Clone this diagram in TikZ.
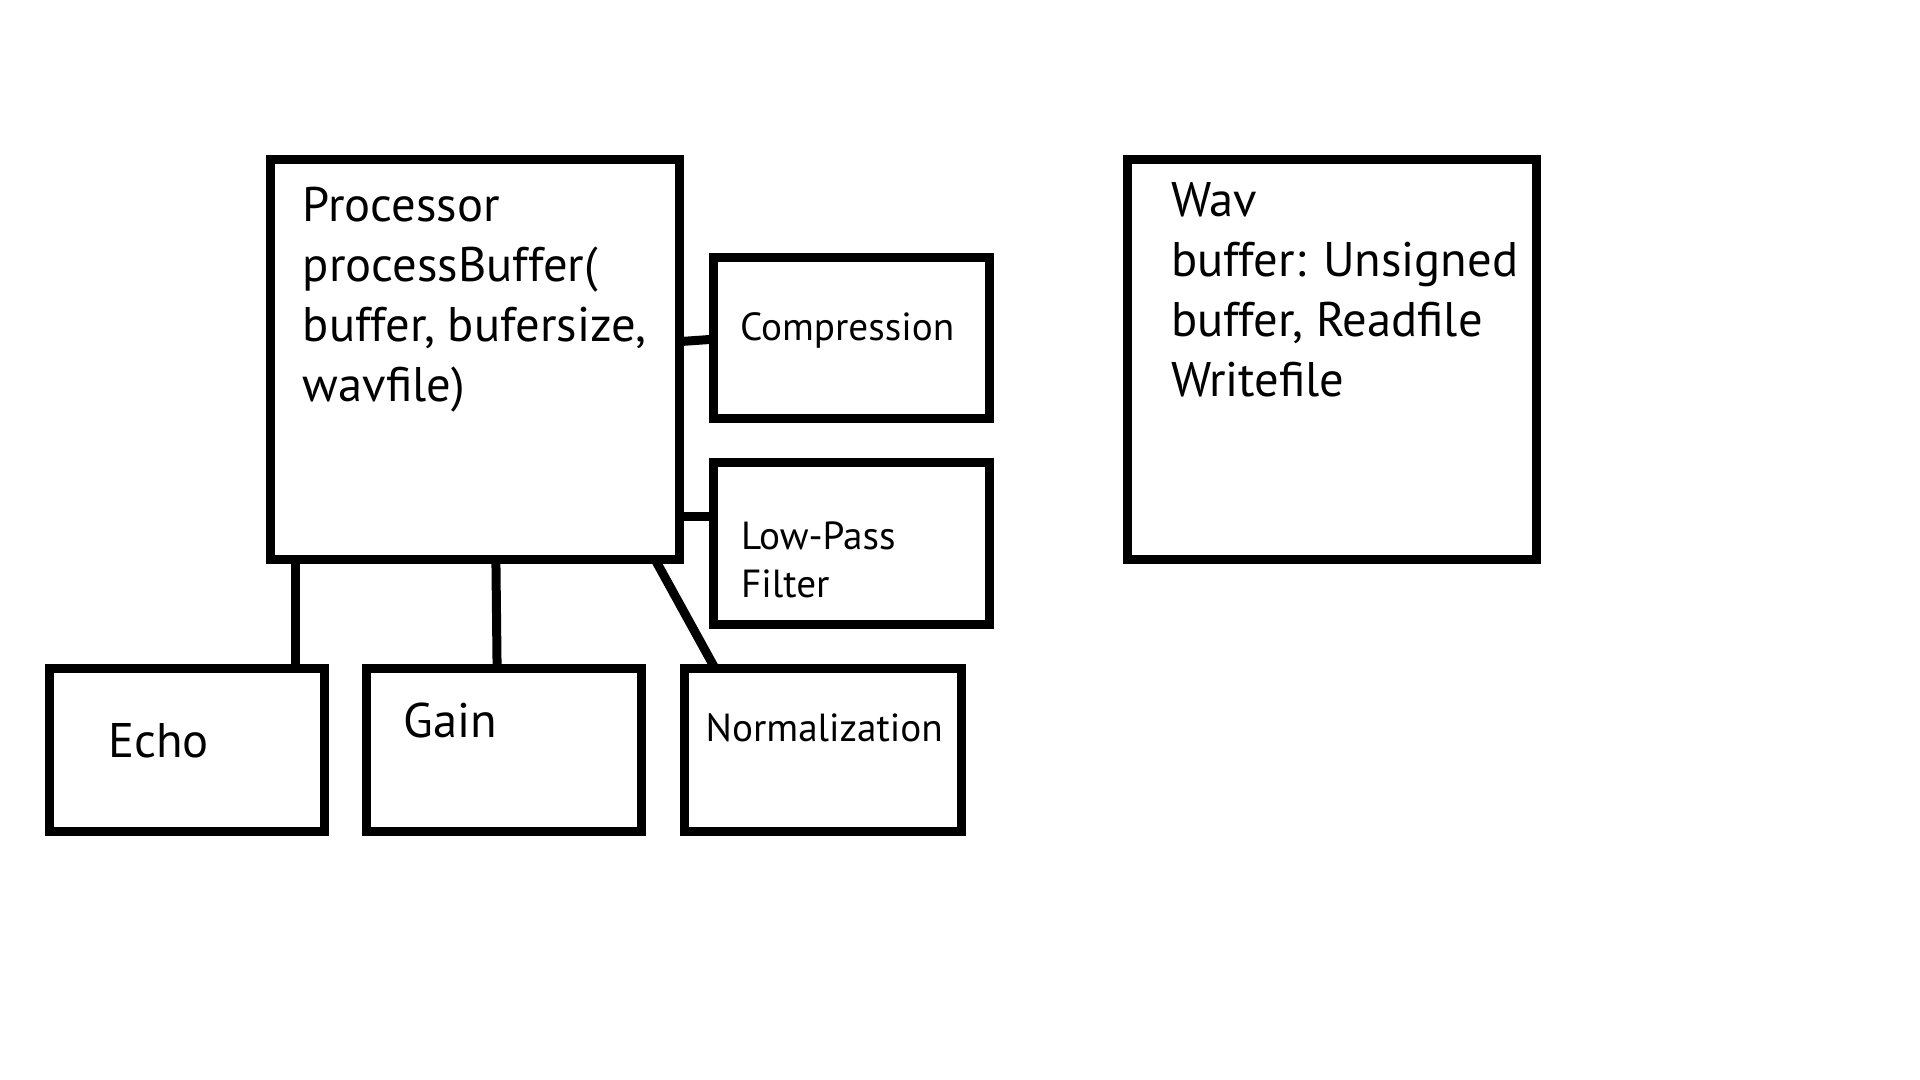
\documentclass[tikz,border=0pt]{standalone}
\usepackage{fontspec}
\setmainfont{PT Sans}
\usetikzlibrary{calc}

\tikzset{
  box/.style={draw, line width=4.5pt, inner sep=0pt, outer sep=0pt},
  link/.style={line width=4.5pt},
  bigtext/.style={anchor=base west, inner sep=0pt, align=left, font=\fontsize{24.3}{30}\selectfont},
  smalltext/.style={anchor=base west, inner sep=0pt, align=left, font=\fontsize{19.6}{24}\selectfont}
}

\begin{document}
\begin{tikzpicture}[x=0.5pt,y=0.5pt,yscale=-1,xscale=1]
\useasboundingbox (0,0) rectangle (1920,1080);

%Shape: Processor
\node[box, minimum width=204.5pt, minimum height=200.2pt] (proc) at (475.1,359.4) {};
%Shape: Wav
\node[box, minimum width=204.5pt, minimum height=200.2pt] (wav) at (1332.3,359.4) {};
%Shape: Compression
\node[box, minimum width=137.75pt, minimum height=80.85pt] (comp) at (851.7,338) {};
%Shape: Low-Pass
\node[box, minimum width=137.75pt, minimum height=80.8pt] (lowpass) at (851.7,543.7) {};
%Shape: Echo
\node[box, minimum width=137.75pt, minimum height=81.4pt] (echo) at (186.8,750) {};
%Shape: Gain
\node[box, minimum width=137.75pt, minimum height=81.4pt] (gain) at (503.9,750) {};
%Shape: Normalization
\node[box, minimum width=138.35pt, minimum height=81.4pt] (norm) at (822.9,750) {};

% Text Node (anchored on the last line)
\node[bigtext] (proctext) at (302.4,401.6) {Processor\\processBuffer(\\buffer, bufersize,\\wavfile)};
% Text Node
\node[bigtext] (wavtext) at (1170.6,396.7) {Wav\\buffer: Unsigned\\buffer, Readfile\\Writefile};
% Text Node
\node[smalltext] (comptext) at (739.6,340.4) {Compression};
% Text Node
\node[smalltext] (lowpasstext) at (740.8,597.6) {Low-Pass\\Filter};
% Text Node
\node[bigtext] (echotext) at (107.8,757) {Echo};
% Text Node
\node[bigtext] (gaintext) at (402.9,737) {Gain};
% Text Node
\node[smalltext] (normtext) at (705.3,741) {Normalization};

%Connectors
\draw[link] ([yshift=-8.9pt]proc.east) -- ([yshift=0.6pt]comp.west);
\draw[link] ([yshift=78.65pt]proc.east) -- ([yshift=78.65pt]proc.east -| lowpass.west);
\draw[link] ([xshift=12.25pt]proc.south west) -- ([xshift=12.25pt]proc.south west |- echo.north) -- ++(0,4);
\draw[link] ([xshift=112.65pt]proc.south west) -- ([xshift=-3.4pt]gain.north);
\draw[link] ([xshift=-12.25pt]proc.south east) -- ([xshift=15.3pt]norm.north west);
\end{tikzpicture}
\end{document}
